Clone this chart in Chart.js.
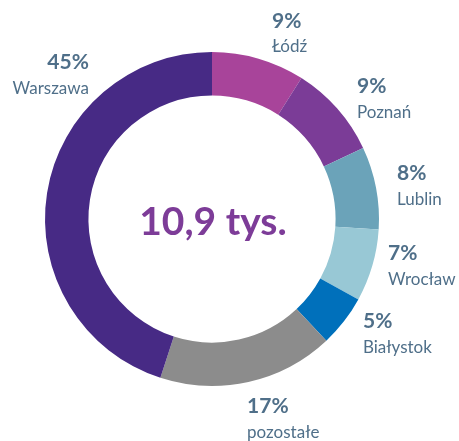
<!DOCTYPE html>
<html>
<head>
<meta charset="utf-8">
<script src="https://cdn.jsdelivr.net/npm/chart.js@4.4.1/dist/chart.umd.min.js"></script>
<style>
  html, body { margin: 0; padding: 0; background: #ffffff; }
  #wrap { width: 459px; height: 441px; }
</style>
</head>
<body>
<div id="wrap"><canvas id="c" width="459" height="441"></canvas></div>
<script>
// ---- data ----
const categories = ["Łódź", "Poznań", "Lublin", "Wrocław", "Białystok", "pozostałe", "Warszawa"];
const shares = [9, 9, 8, 7, 5, 17, 45];
const totalLabel = "10,9 tys.";

// ---- styles ----
const sliceColors = ["#A8449A", "#7B3C97", "#6BA3B9", "#98C8D5", "#0070BB", "#8C8C8C", "#472A85"];
const labelColor = "#4F6F89";
const centerColor = "#7D3C98";

// label placement relative to doughnut centre, in units of outer radius
// [x (anchor edge), y (percent line centre), align]
const labelLayout = [
  [0.359, -1.186, "left"],
  [0.868, -0.796, "left"],
  [1.108, -0.275, "left"],
  [1.054,  0.204, "left"],
  [0.904,  0.611, "left"],
  [0.210,  1.120, "left"],
  [-0.737, -0.940, "right"]
];

const labelPlugin = {
  id: "labelPlugin",
  afterDatasetsDraw(chart) {
    const ctx = chart.ctx;
    const meta = chart.getDatasetMeta(0);
    const arc0 = meta.data[0];
    const cx = arc0.x, cy = arc0.y, R = arc0.outerRadius;
    ctx.save();
    ctx.fillStyle = labelColor;
    ctx.textBaseline = "middle";
    categories.forEach((name, i) => {
      const [fx, fy, align] = labelLayout[i];
      const x = cx + fx * R;
      const y = cy + fy * R;
      ctx.textAlign = align;
      ctx.font = "bold 21px Lato";
      ctx.fillText(shares[i] + "%", x, y);
      ctx.font = "17px Lato";
      ctx.fillText(name, x, y + 26);
    });
    // centre text
    ctx.fillStyle = centerColor;
    ctx.font = "bold 39px Lato";
    ctx.textAlign = "center";
    ctx.textBaseline = "alphabetic";
    ctx.fillText(totalLabel, cx + 1, cy + 16);
    ctx.restore();
  }
};

new Chart(document.getElementById("c"), {
  type: "doughnut",
  data: {
    labels: categories,
    datasets: [{
      data: shares,
      backgroundColor: sliceColors,
      borderWidth: 0
    }]
  },
  options: {
    responsive: false,
    animation: false,
    cutout: "74%",
    layout: { padding: { top: 52, bottom: 55, left: 0, right: 35 } },
    plugins: { legend: { display: false }, tooltip: { enabled: false } }
  },
  plugins: [labelPlugin]
});
</script>
</body>
</html>
